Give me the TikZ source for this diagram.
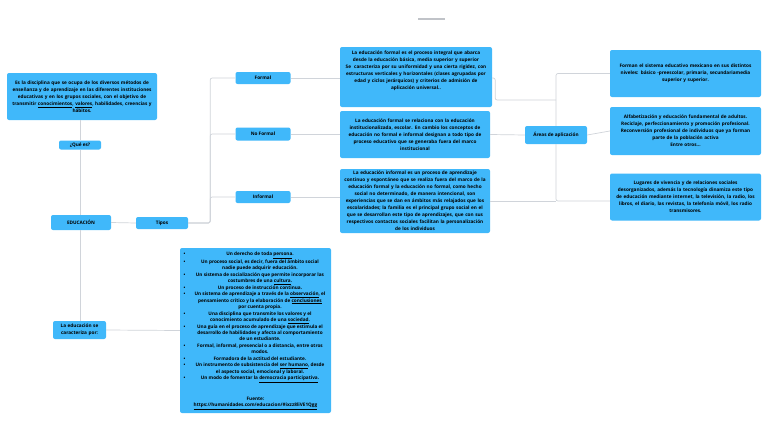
\documentclass[tikz,border=0pt]{standalone}
\usepackage{fontspec}
\setmainfont{Open Sans}
\usepackage{array}
\definecolor{boxblue}{RGB}{64,184,250}
\definecolor{linegray}{RGB}{208,212,218}
\tikzset{
  box/.style={fill=boxblue, rounded corners=2pt, inner sep=1pt, align=center,
    font=\fontsize{4.7}{7}\selectfont\bfseries},
  txt/.style={inner sep=0pt, align=center, font=\fontsize{4.7}{7}\selectfont\bfseries},
  conn/.style={draw=linegray, line width=0.7pt, rounded corners=2pt},
}
\begin{document}
\begin{tikzpicture}[x=1pt,y=-1pt]
\useasboundingbox[fill=white] (0,0) rectangle (768,431);

% top small bar
\coordinate (s1) at (418,19);
\coordinate (s2) at (445,19);
\draw[draw=linegray!80!gray, line width=1.2pt] (s1) -- (s2);

% left column
\node[box, minimum width=150pt, minimum height=47pt, text width=148pt] (def) at (82,96.5)
{Es la disciplina que se ocupa de los diversos métodos de\\
enseñanza y de aprendizaje en las diferentes instituciones\\
educativas y en los grupos sociales, con el objetivo de\\
transmitir \underline{conocimientos}, \underline{valores}, habilidades, creencias y\\
hábitos.};
\node[box, minimum width=42pt, minimum height=9pt] (que) at (80,145) {¿Qué es?};
\node[box, minimum width=60pt, minimum height=15pt] (edu) at (81,222.5) {EDUCACIÓN};
\node[box, minimum width=52pt, minimum height=12pt] (tipos) at (162,223) {Tipos};
\node[box, minimum width=53pt, minimum height=18pt, text width=51pt] (caract) at (79.5,330)
{La educación se\\caracteriza por:};

% types
\node[box, minimum width=55pt, minimum height=12pt] (formal) at (263,78) {Formal};
\node[box, minimum width=55pt, minimum height=13pt] (noformal) at (263,134) {No Formal};
\node[box, minimum width=55pt, minimum height=12pt] (informal) at (263,197) {Informal};

% type descriptions
\node[box, minimum width=152pt, minimum height=60pt] (formaltxt) at (416,77) {};
\node[txt, text width=150pt] (formaltxtT) at (416,71)
{La educación formal es el proceso integral que abarca\\
desde la educación básica, media superior y superior\\
Se~ caracteriza por su uniformidad y una cierta rigidez, con\\
estructuras verticales y horizontales (clases agrupadas por\\
edad y ciclos jerárquicos) y criterios de admisión de\\
aplicación universal..};
\node[box, minimum width=150pt, minimum height=47pt, text width=148pt] (noformaltxt) at (415,134.5)
{La educación formal se relaciona con la educación\\
institucionalizada, escolar. En cambio los conceptos de\\
educación no formal e informal designan a todo tipo de\\
proceso educativo que se generaba fuera del marco\\
institucional};
\node[box, minimum width=150pt, minimum height=64pt, text width=148pt] (informaltxt) at (415,201)
{La educación informal es un proceso de aprendizaje\\
continuo y espontáneo que se realiza fuera del marco de la\\
educación formal y la educación no formal, como hecho\\
social no determinado, de manera intencional, son\\
experiencias que se dan en ámbitos más relajados que los\\
escolaridades; la familia es el principal grupo social en el\\
que se desarrollan este tipo de aprendizajes, que con sus\\
respectivos contactos sociales facilitan la personalización\\
de los individuos};

% areas
\node[box, minimum width=62pt, minimum height=18pt] (areas) at (556,135) {Áreas de aplicación};
\node[box, minimum width=151pt, minimum height=47pt, text width=149pt] (r1) at (685.5,73.5)
{Forman el sistema educativo mexicano en sus distintos\\
niveles: básico -preescolar, primaria, secundariamedia\\
superior y superior.};
\node[box, minimum width=151pt, minimum height=48pt, text width=149pt] (r2) at (685.5,131)
{Alfabetización y educación fundamental de adultos.\\
Reciclaje, perfeccionamiento y promoción profesional.\\
Reconversión profesional de individuos que ya forman\\
parte de la población activa\\
Entre otros...};
\node[box, minimum width=151pt, minimum height=47pt, text width=149pt] (r3) at (685.5,197)
{Lugares de vivencia y de relaciones sociales\\
desorganizados, además la tecnología dinamiza este tipo\\
de educación mediante internet, la televisión, la radio, los\\
libros, el diario, las revistas, la telefonía móvil, los radio\\
transmisores.};

% list
\node[box, minimum width=151pt, minimum height=165pt, inner sep=0pt] (list) at (255.5,330.5)
{\fontsize{4.7}{6.45}\selectfont
\begin{tabular}{@{}>{\centering\arraybackslash}p{9pt}@{}>{\centering\arraybackslash}p{142pt}@{}}
\textbullet & Un derecho de toda \underline{persona}.\\
\textbullet & Un proceso social, es decir, fuera del ámbito social\par nadie puede adquirir educación.\\
\textbullet & Un sistema de socialización que permite incorporar las\par costumbres de una \underline{cultura}.\\
\textbullet & Un proceso de instrucción continua.\\
\textbullet & Un sistema de aprendizaje a través de la \underline{observación}, el\par pensamiento crítico y la elaboración de \underline{conclusiones}\par por cuenta propia.\\
\textbullet & Una disciplina que transmite los valores y el\par conocimiento acumulado de una \underline{sociedad}.\\
\textbullet & Una guía en el proceso de aprendizaje que estimula el\par desarrollo de habilidades y afecta al comportamiento\par de un estudiante.\\
\textbullet & Formal, informal, presencial o a distancia, entre otros\par modos.\\
\textbullet & Formadora de la actitud del estudiante.\\
\textbullet & Un instrumento de subsistencia del \underline{ser humano}, desde\par el aspecto social, emocional y laboral.\\
\textbullet & Un modo de fomentar la \underline{democracia participativa}.\\
 & \\
 & \\
\multicolumn{2}{c}{Fuente:}\\
\multicolumn{2}{c}{\underline{https://humanidades.com/educacion/\#ixzz8liVE1Qgg}}
\end{tabular}};

% connectors
\draw[conn] (que.north |- def.south) -- (que.north);
\draw[conn] (que.south) -- (que.south |- edu.north);
\draw[conn] (que.south |- edu.south) -- (que.south |- caract.north);
\draw[conn] (edu.east) -- (tipos.west);
\draw[conn] (tipos.east) -- ++(22,0) |- (formal.west);
\draw[conn] (tipos.east) -- ++(22,0) |- (noformal.west);
\draw[conn] (tipos.east) -- ++(22,0) |- (informal.west);
\draw[conn] (formal.east) -- (formal.east -| formaltxt.west);
\draw[conn] (noformal.east) -- (noformal.east -| noformaltxt.west);
\draw[conn] (informal.east) -- (informal.east -| informaltxt.west);
\draw[conn] (caract.east) -- (list.west);

\coordinate (fj) at (556,100);
\draw[conn] (formaltxt.east |- formal.east) -- ++(3,0) |- (fj);
\draw[conn] (noformaltxt.east) -- (areas.west);
\draw[conn] (informaltxt.east) -- (areas.south |- informaltxt.east);
\draw[conn] (r1.west) -| (areas.north);
\draw[conn] (areas.south) |- (r3.west |- informaltxt.east);
\draw[conn] (areas.east) -- (r2.west);
\end{tikzpicture}
\end{document}
